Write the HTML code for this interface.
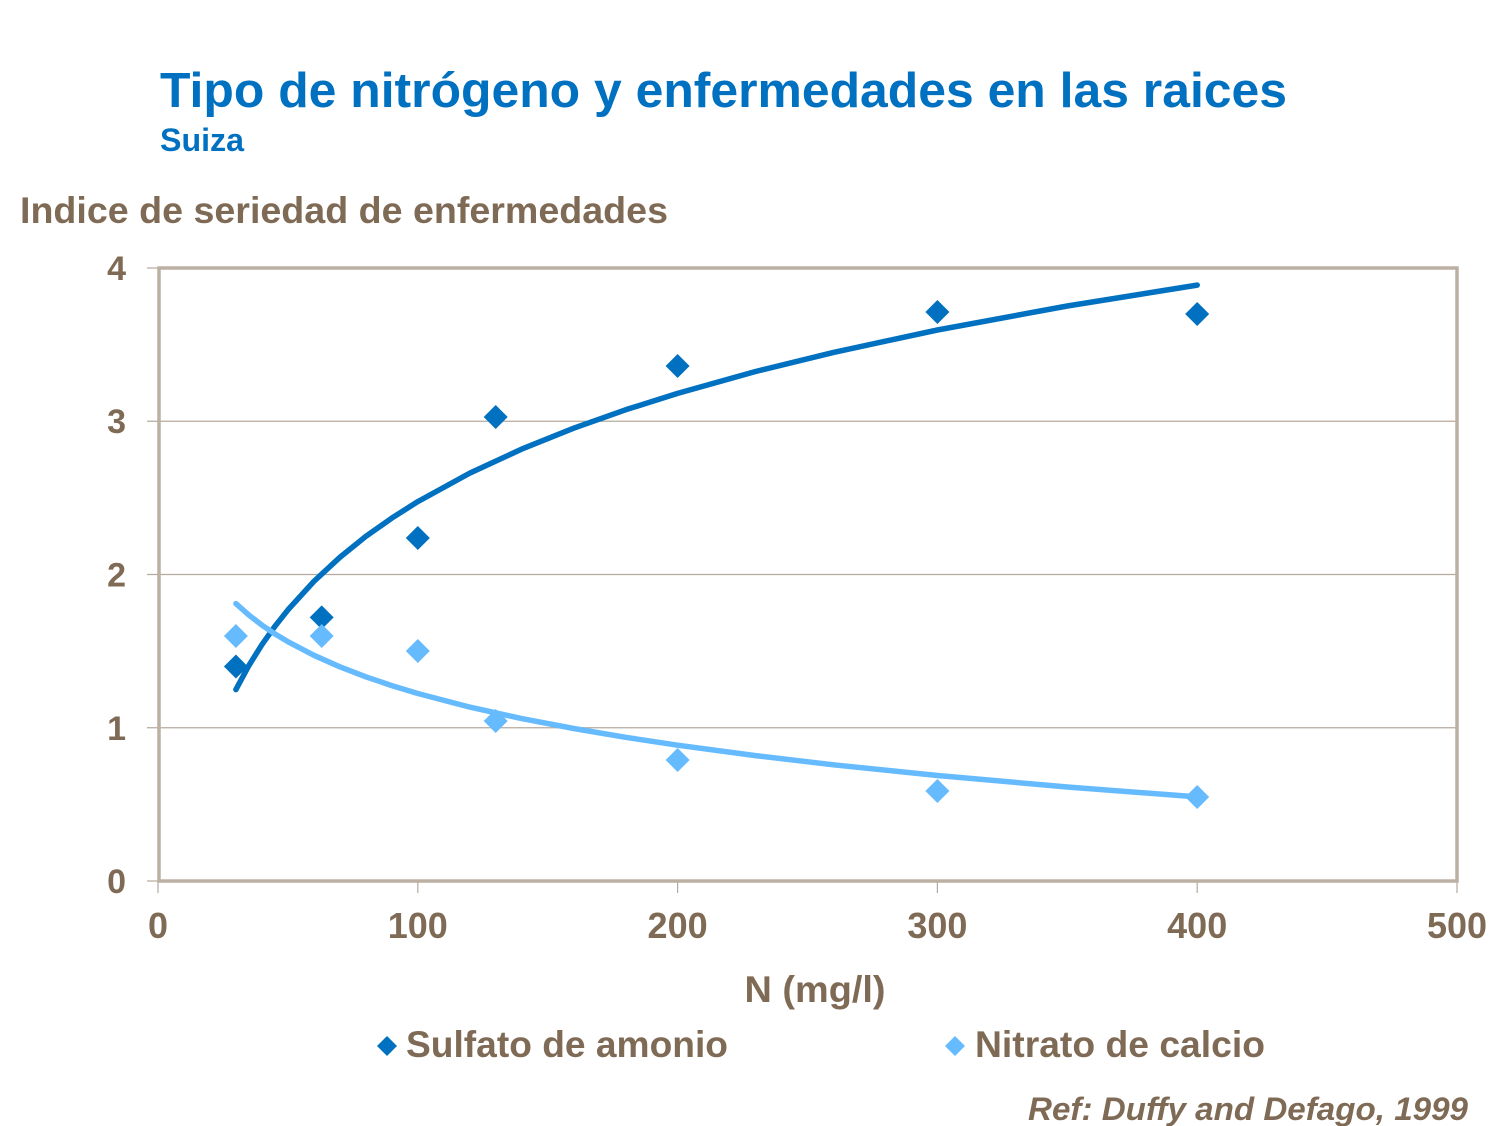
<!DOCTYPE html>
<html>
<head>
<meta charset="utf-8">
<style>
  html, body { margin:0; padding:0; background:#ffffff; }
  svg { display:block; }
  text { font-family: "Liberation Sans", Arial, sans-serif; font-weight: bold; }
</style>
</head>
<body>
<svg width="1500" height="1126" viewBox="0 0 1500 1126" xmlns="http://www.w3.org/2000/svg">
  <rect x="0" y="0" width="1500" height="1126" fill="#ffffff"/>

  <!-- Title -->
  <text x="160" y="107" font-size="49" fill="#0070c0" textLength="1127" lengthAdjust="spacingAndGlyphs">Tipo de nitrógeno y enfermedades en las raices</text>
  <text x="160" y="151" font-size="32" fill="#0070c0" textLength="84" lengthAdjust="spacingAndGlyphs">Suiza</text>

  <!-- Y axis title -->
  <text x="20" y="223" font-size="37" fill="#7f6b55" textLength="648" lengthAdjust="spacingAndGlyphs">Indice de seriedad de enfermedades</text>

  <!-- Gridlines -->
  <g stroke="#b5aa9d" stroke-width="1.2">
    <line x1="147" y1="421.25" x2="1457" y2="421.25"/>
    <line x1="147" y1="574.5" x2="1457" y2="574.5"/>
    <line x1="147" y1="727.75" x2="1457" y2="727.75"/>
    <line x1="147" y1="268" x2="159" y2="268"/>
    <line x1="147" y1="881" x2="159" y2="881"/>
    <!-- x ticks -->
    <line x1="158" y1="881" x2="158" y2="893"/>
    <line x1="417.8" y1="881" x2="417.8" y2="893"/>
    <line x1="677.6" y1="881" x2="677.6" y2="893"/>
    <line x1="937.4" y1="881" x2="937.4" y2="893"/>
    <line x1="1197.2" y1="881" x2="1197.2" y2="893"/>
    <line x1="1457" y1="881" x2="1457" y2="893"/>
  </g>

  <!-- Plot border -->
  <rect x="159" y="268" width="1298" height="613" fill="none" stroke="#bcb0a3" stroke-width="3.5"/>

  <!-- Y tick labels -->
  <g font-size="34" fill="#7f6b55" text-anchor="end">
    <text x="126" y="280">4</text>
    <text x="126" y="433">3</text>
    <text x="126" y="586.5">2</text>
    <text x="126" y="740">1</text>
    <text x="126" y="893">0</text>
  </g>

  <!-- X tick labels -->
  <g font-size="36" fill="#7f6b55" text-anchor="middle">
    <text x="158" y="938">0</text>
    <text x="417.8" y="938">100</text>
    <text x="677.6" y="938">200</text>
    <text x="937.4" y="938">300</text>
    <text x="1197.2" y="938">400</text>
    <text x="1457" y="938">500</text>
  </g>

  <!-- X axis title -->
  <text x="815" y="1002" font-size="37" fill="#7f6b55" text-anchor="middle" textLength="141" lengthAdjust="spacingAndGlyphs">N (mg/l)</text>

  <!-- Sulfato markers -->
  <g fill="#0070c0">
    <path d="M235.9 654.5 L247.9 666.5 L235.9 678.5 L223.9 666.5 Z"/>
    <path d="M321.7 605.4 L333.7 617.4 L321.7 629.4 L309.7 617.4 Z"/>
    <path d="M417.8 526 L429.8 538 L417.8 550 L405.8 538 Z"/>
    <path d="M495.7 405 L507.7 417 L495.7 429 L483.7 417 Z"/>
    <path d="M677.6 354 L689.6 366 L677.6 378 L665.6 366 Z"/>
    <path d="M937.4 300 L949.4 312 L937.4 324 L925.4 312 Z"/>
    <path d="M1197.2 302 L1209.2 314 L1197.2 326 L1185.2 314 Z"/>
  </g>

  <!-- Nitrato markers -->
  <g fill="#66bbff">
    <path d="M235.9 624 L247.9 636 L235.9 648 L223.9 636 Z"/>
    <path d="M321.7 624 L333.7 636 L321.7 648 L309.7 636 Z"/>
    <path d="M417.8 639 L429.8 651 L417.8 663 L405.8 651 Z"/>
    <path d="M495.7 709 L507.7 721 L495.7 733 L483.7 721 Z"/>
    <path d="M677.6 748 L689.6 760 L677.6 772 L665.6 760 Z"/>
    <path d="M937.4 779 L949.4 791 L937.4 803 L925.4 791 Z"/>
    <path d="M1197.2 785 L1209.2 797 L1197.2 809 L1185.2 797 Z"/>
  </g>

  <!-- Sulfato trendline (log) -->
  <polyline fill="none" stroke="#0070c0" stroke-width="5.5" stroke-linecap="round" stroke-linejoin="round"
    points="235.9,689.6 248.9,665.5 261.9,644.7 274.9,626.3 287.9,609.9 313.9,581.4 339.9,557.3 365.8,536.4 391.8,518.1 417.8,501.6 469.8,473.1 521.7,449.1 573.7,428.2 625.6,409.8 677.6,393.4 755.5,371.5 833.5,352.4 937.4,330.0 1067.3,306.0 1197.2,285.1"/>

  <!-- Nitrato trendline (log) -->
  <polyline fill="none" stroke="#66bbff" stroke-width="5.5" stroke-linecap="round" stroke-linejoin="round"
    points="235.9,603.6 248.9,615.1 261.9,625.1 274.9,633.9 287.9,641.7 313.9,655.3 339.9,666.8 365.8,676.8 391.8,685.6 417.8,693.5 469.8,707.1 521.7,718.6 573.7,728.5 625.6,737.3 677.6,745.2 755.5,755.6 833.5,764.8 937.4,775.5 1067.3,787.0 1197.2,796.9"/>

  <!-- Legend -->
  <path d="M387 1036 L397 1046 L387 1056 L377 1046 Z" fill="#0070c0"/>
  <text x="406" y="1057" font-size="37" fill="#7f6b55" textLength="322" lengthAdjust="spacingAndGlyphs">Sulfato de amonio</text>
  <path d="M955 1036 L965 1046 L955 1056 L945 1046 Z" fill="#66bbff"/>
  <text x="975" y="1057" font-size="37" fill="#7f6b55" textLength="290" lengthAdjust="spacingAndGlyphs">Nitrato de calcio</text>

  <!-- Reference -->
  <text x="1028" y="1120" font-size="32" font-style="italic" fill="#7f6b55" textLength="440" lengthAdjust="spacingAndGlyphs">Ref: Duffy and Defago, 1999</text>
</svg>
</body>
</html>
